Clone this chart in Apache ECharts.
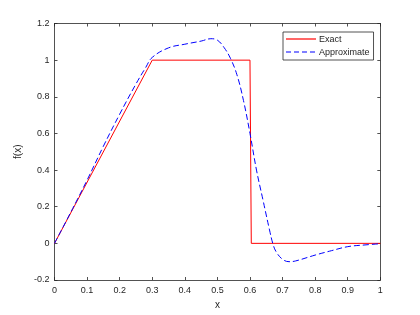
<!DOCTYPE html>
<html>
<head>
<meta charset="utf-8">
<script src="https://cdn.jsdelivr.net/npm/echarts@6/dist/echarts.min.js"></script>
<style>
  html, body { margin: 0; padding: 0; background: #fff; }
</style>
</head>
<body>
<div id="main" style="width:420px;height:315px;"></div>
<script type="text/javascript">
    // exact solution (piecewise)
    var exactX = [0, 0.3, 0.6, 0.604, 1];
    var exactY = [0, 1, 1, 0, 0];

    // approximate solution
    var approxX = [0, 0.05, 0.1, 0.15, 0.2, 0.25, 0.28, 0.3, 0.35, 0.4, 0.45, 0.48, 0.5, 0.52, 0.54, 0.56, 0.58, 0.6,
        0.62, 0.64, 0.66, 0.67, 0.68, 0.7, 0.72, 0.74, 0.8, 0.85, 0.9, 0.95, 1];
    var approxY = [0, 0.17, 0.345, 0.53, 0.705, 0.87, 0.96, 1.015, 1.067, 1.087, 1.104, 1.117, 1.109, 1.07, 1.01, 0.92,
        0.78, 0.6, 0.4, 0.236, 0.073, 0, -0.045, -0.087, -0.1, -0.096, -0.064, -0.04, -0.018, -0.009, -0.002];

    var xTicks = [0, 0.1, 0.2, 0.3, 0.4, 0.5, 0.6, 0.7, 0.8, 0.9, 1];
    var yTicks = [-0.2, 0, 0.2, 0.4, 0.6, 0.8, 1, 1.2];

    function pairs(xs, ys) {
        return xs.map(function (x, i) { return [x, ys[i]]; });
    }

    var axisColor = '#262626';
    var font = 'Liberation Sans, Arial, sans-serif';
    var red = '#ff0000', blue = '#0000ff';

    var myChart = echarts.init(document.getElementById('main'), null, { renderer: 'canvas' });

    function fmt(v) {
        return String(Math.round(v * 10) / 10);
    }

    var option = {
        animation: false,
        grid: { left: 54.5, right: 39.7, top: 23.5, bottom: 35, containLabel: false },
        legend: {
            left: 283, top: 32, orient: 'vertical',
            icon: 'none',
            itemWidth: 30, itemHeight: 8, itemGap: 4,
            padding: [3, 4, 3, 3],
            borderColor: axisColor, borderWidth: 0.8,
            backgroundColor: '#fff',
            textStyle: { fontSize: 9, color: axisColor, fontFamily: font, padding: [0, 0, 0, -2] },
            data: ['Exact', 'Approximate']
        },
        // legend sample lines
        graphic: [
            { type: 'line', z: 100, shape: { x1: 286, y1: 39, x2: 316, y2: 39 },
              style: { stroke: red, lineWidth: 1.2 } },
            { type: 'line', z: 100, shape: { x1: 286, y1: 52, x2: 316, y2: 52 },
              style: { stroke: blue, lineWidth: 1.2, lineDash: [5, 3] } }
        ],
        xAxis: [{
            type: 'value', min: 0, max: 1, interval: 0.1,
            name: 'x', nameLocation: 'middle', nameGap: 20,
            nameTextStyle: { fontSize: 10, color: axisColor, fontFamily: font },
            axisLine: { onZero: false, lineStyle: { color: axisColor, width: 0.8 } },
            axisTick: { inside: true, length: 3, lineStyle: { color: axisColor, width: 0.8 } },
            axisLabel: { fontSize: 9, color: axisColor, fontFamily: font, margin: 6, formatter: fmt },
            splitLine: { show: false }
        }, {
            type: 'value', min: 0, max: 1, interval: 0.1, position: 'top',
            axisLine: { onZero: false, lineStyle: { color: axisColor, width: 0.8 } },
            axisTick: { inside: true, length: 3, lineStyle: { color: axisColor, width: 0.8 } },
            axisLabel: { show: false },
            splitLine: { show: false }
        }],
        yAxis: [{
            type: 'value', min: -0.2, max: 1.2, interval: 0.2,
            name: 'f(x)', nameLocation: 'middle', nameGap: 26,
            nameTextStyle: { fontSize: 10, color: axisColor, fontFamily: font },
            axisLine: { show: true, onZero: false, lineStyle: { color: axisColor, width: 0.8 } },
            axisTick: { show: true, inside: true, length: 3, lineStyle: { color: axisColor, width: 0.8 } },
            axisLabel: { fontSize: 9, color: axisColor, fontFamily: font, margin: 5, formatter: fmt },
            splitLine: { show: false }
        }, {
            type: 'value', min: -0.2, max: 1.2, interval: 0.2, position: 'right',
            axisLine: { show: true, onZero: false, lineStyle: { color: axisColor, width: 0.8 } },
            axisTick: { show: true, inside: true, length: 3, lineStyle: { color: axisColor, width: 0.8 } },
            axisLabel: { show: false },
            splitLine: { show: false }
        }],
        series: [{
            name: 'Exact', type: 'line', symbol: 'none',
            lineStyle: { color: red, width: 1 },
            itemStyle: { color: red },
            data: pairs(exactX, exactY)
        }, {
            name: 'Approximate', type: 'line', symbol: 'none', smooth: 0.4,
            lineStyle: { color: blue, width: 1, type: [6, 3] },
            itemStyle: { color: blue },
            data: pairs(approxX, approxY)
        }]
    };

    myChart.setOption(option);
</script>
</body>
</html>
